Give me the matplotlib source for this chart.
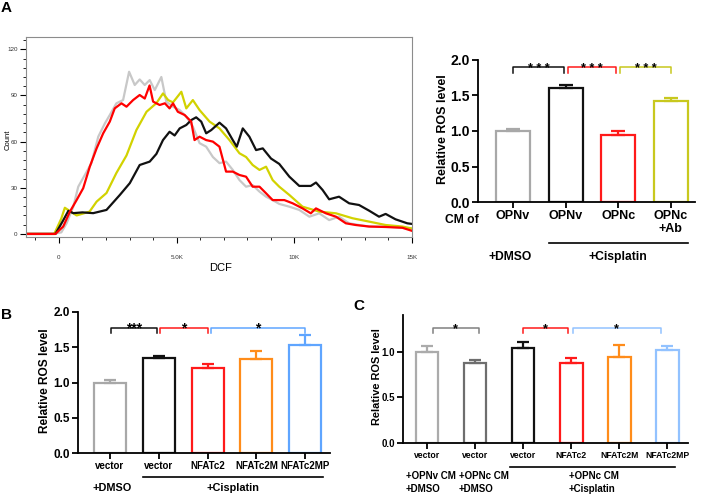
import matplotlib.pyplot as plt
from matplotlib.lines import Line2D
from matplotlib.ticker import MultipleLocator

plt.rcParams['font.family'] = ['Liberation Sans', 'DejaVu Sans']
plt.rcParams['font.weight'] = 'bold'

W, H = 707, 495

# ---- panel A, DCF histogram (x = DCF, y = count) ----
gray_x = [-1400, -250, 100, 325, 610, 820, 1100, 1380, 1670, 1950, 2160, 2440, 2725, 2980, 3220, 3430,
          3645, 3856, 4070, 4350, 4560, 4845, 5130, 5410, 5690, 5975, 6255, 6540, 6820, 7100, 7385,
          7670, 7950, 8230, 8520, 8800, 9080, 9360, 9790, 10210, 10640, 11060, 11480, 11900, 12330,
          12750, 13180, 13880, 14590, 15000]
gray_y = [0, 0, 1, 6.9, 17.7, 30.7, 38.3, 46, 63.2, 71.8, 77.3, 84.9, 87, 105.4, 96.8, 100.4,
          96.8, 100, 93.5, 102, 86, 82.7, 80.5, 76.2, 69.7, 59, 56.7, 50, 46, 47, 41.6,
          35, 30.7, 31.7, 27.5, 24.2, 22, 19.5, 17.7, 15.6, 11.2, 13.4, 9, 11.2, 6.9,
          5.8, 4.8, 4.8, 4, 3.5]

red_x = [-1400, -150, 180, 466, 750, 1030, 1310, 1600, 1880, 2160, 2370, 2655, 2870, 3150, 3430,
         3645, 3850, 4000, 4280, 4500, 4700, 4845, 5050, 5340, 5620, 5760, 5975, 6255, 6540, 6820,
         7100, 7385, 7670, 7950, 8230, 8520, 8800, 9080, 9360, 9575, 9930, 10350, 10700, 10920,
         11340, 11770, 12190, 12610, 13180, 13880, 14590, 15000]
red_y = [0, 0, 4.8, 14.5, 22, 29.7, 43.7, 55.6, 65.4, 73, 81.6, 84.9, 82.7, 87, 90.3,
         88, 96.5, 86, 83.8, 84.9, 81.6, 84.9, 79.4, 77.3, 73, 61, 63.2, 61, 60, 56.7,
         40.5, 40.5, 38.3, 37.2, 30.7, 30.7, 26.4, 22, 22, 22, 19.9, 16.6, 13.4, 16.6,
         13.4, 11.2, 6.9, 5.8, 4.8, 4.5, 4, 2]

yellow_x = [-1400, -200, 100, 250, 750, 1300, 1600, 2020, 2440, 2870, 3290, 3720, 4140, 4420, 4640,
            4845, 5200, 5410, 5690, 5975, 6400, 6820, 7245, 7670, 7950, 8230, 8520, 8800, 9080,
            9360, 9790, 10350, 11060, 11770, 12470, 13180, 13880, 14590, 15000]
yellow_y = [0, 0, 10, 17, 12, 14.5, 21, 26.6, 39.6, 51, 67.5, 79.4, 85, 91.3, 87,
            85.5, 92.4, 81.6, 87, 80.5, 73, 68.6, 61, 52.4, 50, 44.8, 41.6, 43.7, 35,
            30.7, 25.3, 17.7, 14.5, 13.4, 10.2, 8, 5.8, 4.8, 3.5]

black_x = [-1400, -150, 150, 400, 610, 1000, 1455, 2020, 2585, 3010, 3430, 3856, 4140, 4420, 4700,
           4915, 5130, 5410, 5620, 5830, 6045, 6255, 6470, 6820, 7100, 7385, 7555, 7810, 8090,
           8375, 8660, 9010, 9360, 9790, 10210, 10700, 10920, 11200, 11480, 11900, 12330, 12750,
           13180, 13600, 13880, 14300, 14800, 15000]
black_y = [0, 0, 8, 15, 13.5, 14, 13.5, 15.6, 25.3, 33, 44.8, 47, 52, 61, 66.4,
           64, 68.6, 70.8, 74, 75.8, 73, 65.4, 67.5, 72.3, 68.6, 61, 56.7, 68.6, 63.2,
           54.5, 55.6, 49, 45.5, 37.2, 31.2, 31.2, 33.4, 28.6, 22.5, 24.2, 19.9, 18.8,
           15.1, 11.2, 13, 9.5, 6.9, 6.5]

# ---- panel A, bars ----
a_labels = ['OPNv', 'OPNv', 'OPNc', 'OPNc\n+Ab']
a_vals = [1.0, 1.61, 0.95, 1.42]
a_errs = [0.03, 0.04, 0.055, 0.04]
a_colors = ['#a8a8a8', '#111111', '#ff1a1a', '#c8c81e']

# ---- panel B ----
b_labels = ['vector', 'vector', 'NFATc2', 'NFATc2M', 'NFATc2MP']
b_vals = [1.0, 1.35, 1.2, 1.33, 1.53]
b_errs = [0.035, 0.03, 0.06, 0.12, 0.14]
b_colors = ['#a8a8a8', '#111111', '#ff1a1a', '#ff8c1a', '#5fa5ff']

# ---- panel C ----
c_labels = ['vector', 'vector', 'vector', 'NFATc2', 'NFATc2M', 'NFATc2MP']
c_vals = [1.0, 0.875, 1.04, 0.88, 0.945, 1.02]
c_errs = [0.065, 0.035, 0.06, 0.045, 0.125, 0.045]
c_colors = ['#ababab', '#6e6e6e', '#111111', '#ff1a1a', '#ff8c1a', '#92c2ff']


def box(l, t, r, b):
    return [l / W, 1 - b / H, (r - l) / W, (b - t) / H]


def fx(x):
    return x / W


def fy(y):
    return 1 - y / H


def bars(ax, vals, errs, colors, width, capsize):
    xs = range(len(vals))
    ax.bar(xs, vals, width, facecolor='white', edgecolor=colors, linewidth=1.6, zorder=2)
    for i, v, e, c in zip(xs, vals, errs, colors):
        ax.errorbar(i, v, yerr=[[0], [e]], fmt='none', ecolor=c, elinewidth=1.6,
                    capsize=capsize, capthick=1.6, zorder=3)
    ax.spines[['top', 'right']].set_visible(False)
    for s in ['left', 'bottom']:
        ax.spines[s].set_linewidth(1.3)
    ax.tick_params(width=1.3, length=4, pad=2)


def bracket(ax, x0, x1, y, drop, text, color, fs):
    ax.plot([x0, x0, x1, x1], [y - drop, y, y, y - drop], color=color, lw=1.1, clip_on=False)
    ax.annotate(text, ((x0 + x1) / 2, y), xytext=(0, -3.5), textcoords='offset points',
                ha='center', va='baseline', fontsize=fs, color='black')


def hline(x0, x1, y):
    fig.add_artist(Line2D([fx(x0), fx(x1)], [fy(y), fy(y)], color='black', lw=1.2))


fig = plt.figure(figsize=(W / 100, H / 100), dpi=100)

# histogram
ax = fig.add_axes(box(26, 37, 412, 237))
ax.plot(gray_x, gray_y, color='#c8c8c8', lw=1.6)
ax.plot(yellow_x, yellow_y, color='#d2d200', lw=1.6)
ax.plot(black_x, black_y, color='#111111', lw=1.6)
ax.plot(red_x, red_y, color='#ff0000', lw=1.6)
ax.set_xlim(-1400, 15000)
ax.set_ylim(-2, 128)
ax.set_xticks([0, 5000, 10000, 15000], ['0', '5.0K', '10K', '15K'])
ax.xaxis.set_minor_locator(MultipleLocator(1000))
ax.set_yticks([0, 30, 60, 90, 120])
ax.yaxis.set_minor_locator(MultipleLocator(6))
ax.tick_params(which='major', length=4, width=0.8, labelsize=4.5, labelcolor='#333333')
ax.tick_params(axis='x', which='major', pad=9)
ax.tick_params(axis='y', which='major', pad=2)
ax.tick_params(which='minor', length=2, width=0.6)
for lab in ax.get_xticklabels() + ax.get_yticklabels():
    lab.set_fontweight('normal')
for s in ax.spines.values():
    s.set_color('#8c8c8c')
    s.set_linewidth(0.8)
fig.text(fx(221), fy(268), 'DCF', ha='center', va='center', fontsize=8, fontweight='normal')
fig.text(fx(8), fy(140), 'Count', rotation=90, ha='center', va='center', fontsize=5.5,
         fontweight='normal')

# A bars
axa = fig.add_axes(box(478, 60, 695, 202))
bars(axa, a_vals, a_errs, a_colors, 0.645, 5)
axa.set_xlim(-0.664, 3.46)
axa.set_ylim(0, 2.0)
axa.set_yticks([0, 0.5, 1.0, 1.5, 2.0], ['0.0', '0.5', '1.0', '1.5', '2.0'])
axa.set_xticks(range(4), a_labels, fontsize=9, linespacing=1.05)
axa.tick_params(axis='y', labelsize=10)
bracket(axa, 0.0, 0.97, 1.90, 0.08, '* * *', a_colors[1], 9)
bracket(axa, 1.04, 1.96, 1.90, 0.08, '* * *', a_colors[2], 9)
bracket(axa, 2.04, 3.0, 1.90, 0.08, '* * *', a_colors[3], 9)
fig.text(fx(443), fy(129), 'Relative ROS level', rotation=90, ha='center', va='center', fontsize=9)
fig.text(fx(462), fy(220), 'CM of', ha='center', va='center', fontsize=8.7)
hline(549, 688, 243)
fig.text(fx(510), fy(257), '+DMSO', ha='center', va='center', fontsize=8.7)
fig.text(fx(618), fy(257), '+Cisplatin', ha='center', va='center', fontsize=8.7)

# B
axb = fig.add_axes(box(78, 312, 330, 453))
bars(axb, b_vals, b_errs, b_colors, 0.656, 4.5)
axb.set_xlim(-0.656, 4.51)
axb.set_ylim(0, 2.0)
axb.set_yticks([0, 0.5, 1.0, 1.5, 2.0], ['0.0', '0.5', '1.0', '1.5', '2.0'])
axb.set_xticks(range(5), b_labels, fontsize=7)
axb.tick_params(axis='y', labelsize=8.5)
bracket(axb, 0.02, 0.96, 1.78, 0.08, '***', b_colors[1], 10)
bracket(axb, 1.03, 2.0, 1.78, 0.08, '*', b_colors[2], 10)
bracket(axb, 2.07, 4.0, 1.78, 0.08, '*', b_colors[4], 10)
fig.text(fx(45), fy(381), 'Relative ROS level', rotation=90, ha='center', va='center', fontsize=8.6)
hline(143, 323, 477)
fig.text(fx(112), fy(488), '+DMSO', ha='center', va='center', fontsize=7.8)
fig.text(fx(233), fy(488), '+Cisplatin', ha='center', va='center', fontsize=7.8)

# C
axc = fig.add_axes(box(403, 315, 688, 443))
bars(axc, c_vals, c_errs, c_colors, 0.47, 4)
axc.set_xlim(-0.5, 5.43)
axc.set_ylim(0, 1.4)
axc.set_yticks([0, 0.5, 1.0], ['0.0', '0.5', '1.0'])
axc.set_xticks(range(6), c_labels, fontsize=6.2)
axc.tick_params(axis='y', labelsize=7)
bracket(axc, 0.12, 1.08, 1.26, 0.06, '*', '#808080', 9)
bracket(axc, 2.0, 2.94, 1.26, 0.06, '*', c_colors[3], 9)
bracket(axc, 3.04, 4.86, 1.26, 0.06, '*', c_colors[5], 9)
fig.text(fx(377), fy(377), 'Relative ROS level', rotation=90, ha='center', va='center', fontsize=7.9)
hline(510, 675, 467)
for x, top, bottom in [(406, '+OPNv CM', '+DMSO'), (459, '+OPNc CM', '+DMSO'),
                       (569, '+OPNc CM', '+Cisplatin')]:
    fig.text(fx(x), fy(476), top, ha='left', va='center', fontsize=7)
    fig.text(fx(x), fy(489), bottom, ha='left', va='center', fontsize=7)

# panel letters
fig.text(fx(6), fy(8), 'A', ha='center', va='center', fontsize=11)
fig.text(fx(6), fy(315), 'B', ha='center', va='center', fontsize=11)
fig.text(fx(359), fy(306), 'C', ha='center', va='center', fontsize=11)

fig.savefig('out.png', dpi=100)
